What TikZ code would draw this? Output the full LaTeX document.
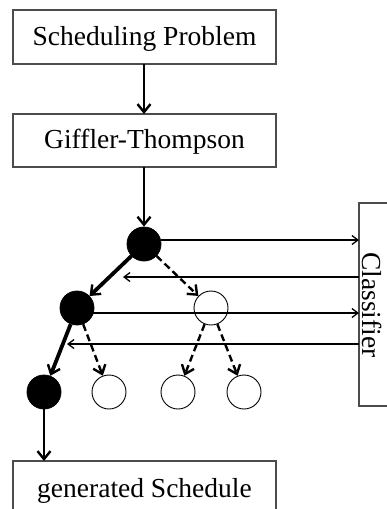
\documentclass[tikz,border=0pt]{standalone}
\usepackage{fontspec}
\setmainfont{Liberation Serif}
\usetikzlibrary{arrows.meta}
\begin{document}
\begin{tikzpicture}[x=1pt,y=-1pt,
  box/.style={draw=black!70,line width=1.3pt,fill=white},
  lbl/.style={font=\fontsize{27.5}{33}\selectfont,inner sep=0pt},
  fullnode/.style={circle,draw,fill=black,minimum size=34pt,inner sep=0pt,line width=0.8pt},
  emptynode/.style={circle,draw,fill=white,minimum size=34pt,inner sep=0pt,line width=0.9pt},
  tipstyle/.style={-{Straight Barb[length=8pt,width=13pt,line width=2.4pt]}},
  mainarrow/.style={tipstyle,line width=2.5pt},
  thickarrow/.style={tipstyle,line width=3.8pt},
  dasharrow/.style={tipstyle,line width=2.4pt,dash pattern=on 7pt off 4pt},
  thinarrow/.style={-{Straight Barb[length=6pt,width=9pt,line width=1.3pt]},line width=1.4pt}]
\useasboundingbox (0,0) rectangle (387,509);
\clip (0,0) rectangle (387,509);
\fill[white] (0,0) rectangle (387,509);
% boxes
\draw[box] (13,10) rectangle (276,64);
\node[lbl] (sp) at (144.5,39) {Scheduling Problem};
\coordinate (spb) at (144,64);
\draw[box] (13,114) rectangle (276,167);
\node[lbl] (gt) at (144.5,142) {Giffler-Thompson};
\coordinate (gtt) at (144,114);
\coordinate (gtb) at (144,167);
\draw[box] (13,461) rectangle (276,530);
\node[lbl] (gs) at (144.5,491) {generated Schedule};
\coordinate (gst) at (44,461);
\draw[box] (359,203) rectangle (420,406);
\node[lbl,rotate=-90] (cl) at (372,305) {Classifier};
% tree nodes
\node[fullnode] (A) at (144,244) {};
\node[fullnode] (B) at (77,308) {};
\node[emptynode] (C) at (211,308) {};
\node[fullnode] (D) at (44,392) {};
\node[emptynode] (E) at (109,392) {};
\node[emptynode] (F) at (178,392) {};
\node[emptynode] (G) at (244,392) {};
% vertical arrows
\draw[mainarrow] (spb) -- (gtt);
\draw[mainarrow] (gtb) -- (A);
\draw[mainarrow] (D) -- (gst);
% tree edges
\draw[thickarrow] (A) -- (B);
\draw[dasharrow] (A) -- (C);
\draw[thickarrow] (B) -- (D);
\draw[dasharrow] (B) -- (E);
\draw[dasharrow] (C) -- (F);
\draw[dasharrow] (C) -- (G);
% classifier arrows
\coordinate (c1) at (359,240);
\coordinate (c2s) at (359,277);
\coordinate (c2e) at (123,277);
\coordinate (c3) at (359,313);
\coordinate (c4s) at (359,344);
\coordinate (c4e) at (67,344);
\draw[thinarrow] (A.east |- c1) -- (c1);
\draw[thinarrow] (c2s) -- (c2e);
\draw[thinarrow] ([xshift=-3pt]B.east |- c3) -- (c3);
\draw[thinarrow] (c4s) -- (c4e);
\end{tikzpicture}
\end{document}
